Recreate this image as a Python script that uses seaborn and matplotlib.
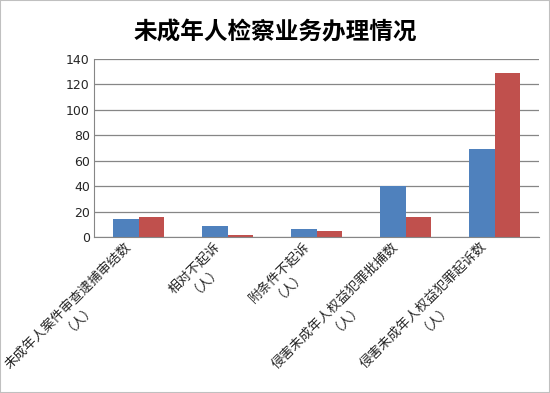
import pandas as pd
import matplotlib.pyplot as plt
import matplotlib.transforms as mtransforms
import seaborn as sns

categories = ['未成年人案件审查逮捕审结数\n（人）', '相对不起诉\n（人）', '附条件不起诉\n（人）',
              '侵害未成年人权益犯罪批捕数\n（人）', '侵害未成年人权益犯罪起诉数\n（人）']
series_names = ['系列1', '系列2']
values_1 = [14, 9, 6, 40, 69]
values_2 = [16, 1.5, 4.5, 16, 129]
y_ticks = [0, 20, 40, 60, 80, 100, 120, 140]

sns.set_style('white')
plt.rcParams['font.family'] = ['Noto Sans CJK SC', 'DejaVu Sans']

df = pd.DataFrame({
    'cat': categories * 2,
    'series': [series_names[0]] * 5 + [series_names[1]] * 5,
    'val': values_1 + values_2,
})

fig = plt.figure(figsize=(5.5, 3.93), dpi=100)
ax = fig.add_axes([0.171, 0.397, 0.809, 0.453])
sns.barplot(data=df, x='cat', y='val', hue='series', palette=['#4F81BD', '#C0504D'],
            width=0.58, gap=0, saturation=1, legend=False, linewidth=0, ax=ax)

ax.set_ylim(0, 140)
ax.set_yticks(y_ticks)
ax.set_yticklabels([str(t) for t in y_ticks], family=['DejaVu Sans'])
ax.yaxis.grid(True, color='#868686', linewidth=0.9)
ax.set_axisbelow(True)
ax.set_xlabel('')
ax.set_ylabel('')
for s in ['top', 'right']:
    ax.spines[s].set_visible(False)
for s in ['left', 'bottom']:
    ax.spines[s].set_color('#868686')
ax.tick_params(axis='y', labelsize=9, length=0, pad=3)
ax.tick_params(axis='x', labelsize=9.5, length=0, pad=2)
# nudge rotated labels a little left, like the original
shift = mtransforms.ScaledTranslation(-14 / 100, 0, fig.dpi_scale_trans)
for lab in ax.get_xticklabels():
    lab.set_rotation(45)
    lab.set_ha('right')
    lab.set_rotation_mode('anchor')
    lab.set_multialignment('center')
    lab.set_linespacing(0.95)
    lab.set_transform(lab.get_transform() + shift)

fig.text(0.5, 0.918, '未成年人检察业务办理情况', ha='center', va='center',
         fontsize=17, fontweight='bold', color='black')
fig.patches.append(plt.Rectangle((0, 0), 1, 1, transform=fig.transFigure,
                                 fill=False, edgecolor='#C0C0C0', linewidth=1.5))

fig.savefig('out.png', dpi=100)
